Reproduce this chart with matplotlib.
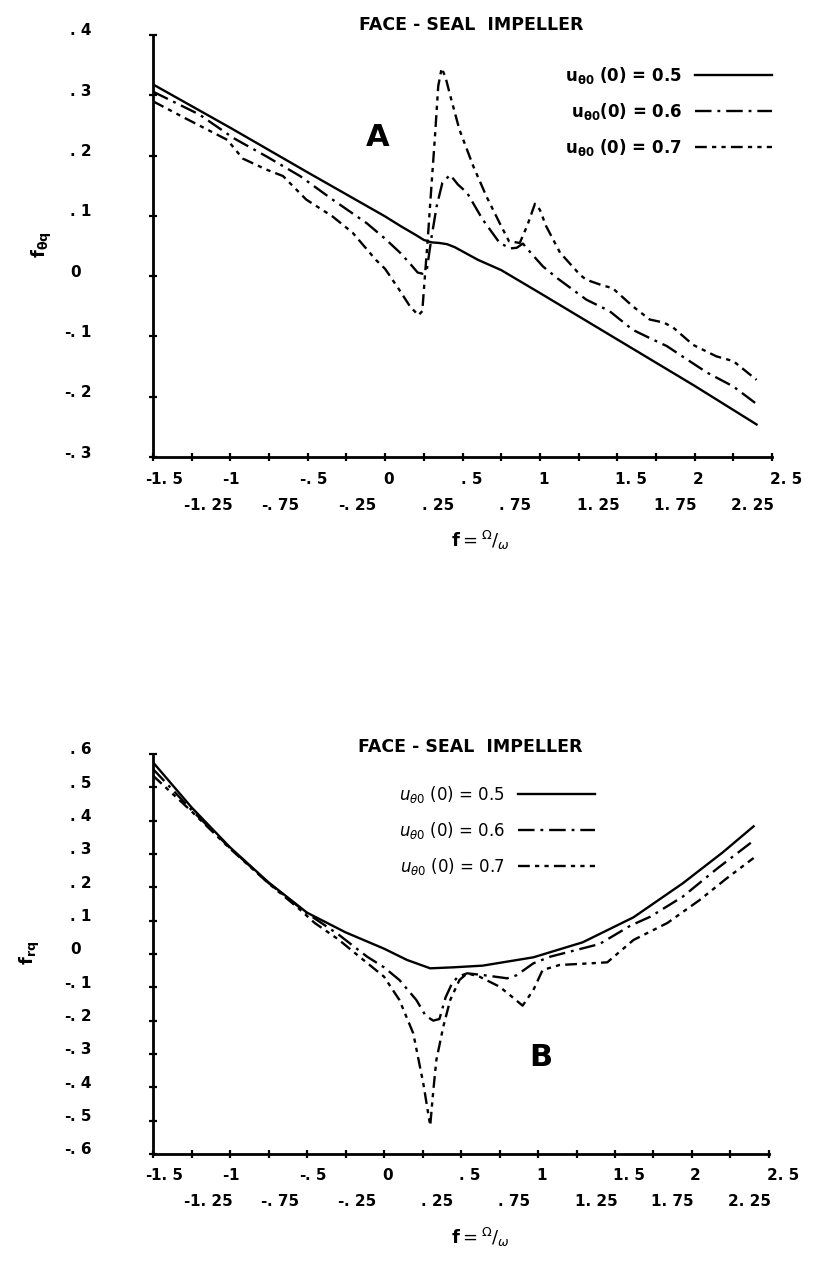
import numpy as np
import matplotlib
matplotlib.use("Agg")
import matplotlib.pyplot as plt
import matplotlib.transforms as mtrans

plt.rcParams['font.family'] = ['DejaVu Sans']
plt.rcParams['mathtext.fontset'] = 'dejavusans'

# ---------------- panel A : f_theta_q ----------------
fA_05 = [-1.5, -1.0, -0.5, 0.0, 0.1, 0.2, 0.25, 0.3, 0.35, 0.4, 0.45, 0.5, 0.6, 0.75, 1.0, 1.5, 2.0, 2.4]
vA_05 = [0.318, 0.246, 0.172, 0.099, 0.083, 0.068, 0.060, 0.056, 0.055, 0.053, 0.048, 0.041, 0.027, 0.010,
         -0.028, -0.105, -0.182, -0.246]

fA_06 = [-1.5, -1.2, -0.98, -0.77, -0.55, -0.34, -0.12, 0.0, 0.1, 0.17, 0.21, 0.24, 0.27, 0.30, 0.333, 0.37,
         0.42, 0.47, 0.53, 0.63, 0.74, 0.81, 0.85, 0.89, 0.95, 1.02, 1.11, 1.30, 1.45, 1.60, 1.72, 1.82, 1.92,
         2.08, 2.25, 2.40]
vA_06 = [0.306, 0.268, 0.229, 0.199, 0.166, 0.127, 0.088, 0.062, 0.038, 0.018, 0.006, 0.004, 0.012, 0.065,
         0.116, 0.155, 0.168, 0.152, 0.138, 0.094, 0.055, 0.046, 0.047, 0.054, 0.036, 0.016, -0.003, -0.039,
         -0.058, -0.089, -0.104, -0.116, -0.133, -0.160, -0.183, -0.212]

fA_07 = [-1.5, -1.3, -1.02, -0.92, -0.77, -0.66, -0.51, -0.34, -0.21, -0.06, 0.0, 0.1, 0.16, 0.215, 0.24,
         0.257, 0.275, 0.29, 0.322, 0.343, 0.365, 0.39, 0.42, 0.48, 0.57, 0.655, 0.74, 0.80, 0.87, 0.92, 0.968,
         1.0, 1.04, 1.13, 1.26, 1.30, 1.40, 1.47, 1.60, 1.71, 1.80, 1.86, 1.99, 2.14, 2.25, 2.40]
vA_07 = [0.290, 0.263, 0.226, 0.195, 0.177, 0.166, 0.127, 0.099, 0.072, 0.027, 0.012, -0.026, -0.050, -0.065,
         -0.058, 0.0, 0.060, 0.116, 0.232, 0.315, 0.345, 0.330, 0.300, 0.243, 0.182, 0.132, 0.088, 0.058,
         0.055, 0.085, 0.120, 0.110, 0.083, 0.039, 0.002, -0.006, -0.015, -0.020, -0.050, -0.072, -0.077,
         -0.085, -0.114, -0.133, -0.141, -0.172]

# ---------------- panel B : f_r_q ----------------
fB_05 = [-1.5, -1.25, -1.0, -0.75, -0.5, -0.25, 0.0, 0.15, 0.3, 0.45, 0.64, 0.97, 1.29, 1.62, 1.94, 2.2, 2.4]
vB_05 = [0.575, 0.440, 0.320, 0.215, 0.124, 0.065, 0.016, -0.018, -0.043, -0.040, -0.035, -0.010, 0.035,
         0.110, 0.212, 0.305, 0.383]

fB_06 = [-1.5, -1.25, -1.0, -0.75, -0.5, -0.3, -0.11, 0.0, 0.10, 0.21, 0.27, 0.32, 0.36, 0.40, 0.44, 0.48,
         0.54, 0.64, 0.80, 0.86, 0.97, 1.08, 1.19, 1.40, 1.60, 1.73, 1.94, 2.16, 2.40]
vB_06 = [0.555, 0.432, 0.318, 0.213, 0.122, 0.060, -0.008, -0.040, -0.078, -0.138, -0.185, -0.200, -0.195,
         -0.130, -0.090, -0.068, -0.058, -0.063, -0.073, -0.064, -0.028, -0.008, 0.005, 0.030, 0.085, 0.112,
         0.172, 0.255, 0.340]

fB_07 = [-1.5, -1.25, -1.0, -0.75, -0.55, -0.45, -0.3, -0.16, 0.0, 0.10, 0.19, 0.255, 0.30, 0.32, 0.34, 0.385,
         0.43, 0.49, 0.54, 0.62, 0.75, 0.83, 0.90, 0.97, 1.03, 1.14, 1.34, 1.45, 1.62, 1.84, 2.05, 2.22, 2.40]
vB_07 = [0.535, 0.428, 0.316, 0.212, 0.135, 0.093, 0.045, -0.008, -0.068, -0.138, -0.238, -0.388, -0.515,
         -0.410, -0.318, -0.218, -0.138, -0.078, -0.058, -0.068, -0.098, -0.128, -0.155, -0.108, -0.048,
         -0.033, -0.028, -0.025, 0.042, 0.093, 0.162, 0.225, 0.288]

# tick values / labels (two rows on the f axis, as on the plotter output)
xt_row1 = [-1.5, -1.0, -0.5, 0.0, 0.5, 1.0, 1.5, 2.0, 2.5]
xl_row1 = ['-1. 5', '-1', '-. 5', '0', '. 5', '1', '1. 5', '2', '2. 5']
xt_row2 = [-1.25, -0.75, -0.25, 0.25, 0.75, 1.25, 1.75, 2.25]
xl_row2 = ['-1. 25', '-. 75', '-. 25', '. 25', '. 75', '1. 25', '1. 75', '2. 25']
ytA = [0.4, 0.3, 0.2, 0.1, 0.0, -0.1, -0.2, -0.3]
ylA = ['. 4', '. 3', '. 2', '. 1', '0', '-. 1', '-. 2', '-. 3']
ytB = [0.6, 0.5, 0.4, 0.3, 0.2, 0.1, 0.0, -0.1, -0.2, -0.3, -0.4, -0.5, -0.6]
ylB = ['. 6', '. 5', '. 4', '. 3', '. 2', '. 1', '0', '-. 1', '-. 2', '-. 3', '-. 4', '-. 5', '-. 6']

leg_labels_A = [r'$\mathbf{u_{\theta 0}}$ (0) = 0.5', r'$\mathbf{u_{\theta 0}}$(0) = 0.6',
                r'$\mathbf{u_{\theta 0}}$ (0) = 0.7']
leg_labels_B = [r'$u_{\theta 0}$ (0) = 0.5', r'$u_{\theta 0}$ (0) = 0.6', r'$u_{\theta 0}$ (0) = 0.7']

ls06 = (0, (7, 2.5, 1.2, 2.5))
ls07 = (0, (5, 2.2, 1.8, 2.2, 1.8, 2.2))
LW = 1.7
TFS = 11

fig = plt.figure(figsize=(8.2, 12.67), dpi=100)
axA = fig.add_axes([0.1866, 0.6393, 0.7549, 0.3331])
axB = fig.add_axes([0.1866, 0.0892, 0.7512, 0.3157])


def put_label(ax, trans, x, y, s):
    # sign hangs to the left of the tick, the rest starts at the tick
    if s.startswith('-'):
        ax.text(x, y, '-', transform=trans, ha='right', va='center', fontsize=TFS,
                fontweight='bold', clip_on=False)
        s = s[1:]
    ax.text(x, y, s, transform=trans, ha='left', va='center', fontsize=TFS,
            fontweight='bold', clip_on=False)


def setup(ax, ylim, yt, yl):
    ax.set_xlim(-1.5, 2.5)
    ax.set_ylim(*ylim)
    for s in ['top', 'right']:
        ax.spines[s].set_visible(False)
    for s in ['left', 'bottom']:
        ax.spines[s].set_linewidth(2.0)
    ax.set_xticks(sorted(xt_row1 + xt_row2))
    ax.set_yticks(yt)
    ax.tick_params(direction='inout', length=6, width=1.6, labelbottom=False, labelleft=False)
    tx1 = mtrans.offset_copy(ax.get_xaxis_transform(), fig=fig, x=-2, y=-22, units='dots')
    tx2 = mtrans.offset_copy(ax.get_xaxis_transform(), fig=fig, x=-2, y=-48, units='dots')
    for v, s in zip(xt_row1, xl_row1):
        put_label(ax, tx1, v, 0, s)
    for v, s in zip(xt_row2, xl_row2):
        put_label(ax, tx2, v, 0, s)
    ty = mtrans.offset_copy(ax.get_yaxis_transform(), fig=fig, x=-83, y=4, units='dots')
    for v, s in zip(yt, yl):
        put_label(ax, ty, 0, v, s)


# panel A
l1, = axA.plot(fA_05, vA_05, color='black', lw=LW, ls='-')
l2, = axA.plot(fA_06, vA_06, color='black', lw=LW, ls=ls06)
l3, = axA.plot(fA_07, vA_07, color='black', lw=LW, ls=ls07)
setup(axA, (-0.3, 0.4), ytA, ylA)
axA.legend([l1, l2, l3], leg_labels_A, loc='upper right', bbox_to_anchor=(1.0, 0.93),
           frameon=False, markerfirst=False, handlelength=4.6, handletextpad=0.8,
           labelspacing=0.9, borderaxespad=0, borderpad=0, prop={'size': 12, 'weight': 'bold'})
axA.text(0.514, 1.024, 'FACE - SEAL  IMPELLER', transform=axA.transAxes, ha='center', va='center',
         fontsize=12.5, fontweight='bold')
axA.text(0.3635, 0.756, 'A', transform=axA.transAxes, ha='center', va='center', fontsize=22,
         fontweight='bold')

# panel B
m1, = axB.plot(fB_05, vB_05, color='black', lw=LW, ls='-')
m2, = axB.plot(fB_06, vB_06, color='black', lw=LW, ls=ls06)
m3, = axB.plot(fB_07, vB_07, color='black', lw=LW, ls=ls07)
setup(axB, (-0.6, 0.6), ytB, ylB)
axB.legend([m1, m2, m3], leg_labels_B, loc='upper right', bbox_to_anchor=(0.7175, 0.925),
           frameon=False, markerfirst=False, handlelength=4.6, handletextpad=0.8,
           labelspacing=0.9, borderaxespad=0, borderpad=0, prop={'size': 12})
axB.text(0.5146, 1.0175, 'FACE - SEAL  IMPELLER', transform=axB.transAxes, ha='center', va='center',
         fontsize=12.5, fontweight='bold')
axB.text(0.63, 0.24, 'B', transform=axB.transAxes, ha='center', va='center', fontsize=22,
         fontweight='bold')

# axis titles
fig.text(42 / 820, 1 - 245 / 1267, r'$\mathbf{f_{\theta q}}$', rotation=90, ha='center', va='center',
         fontsize=13)
fig.text(30 / 820, 1 - 953 / 1267, r'$\mathbf{f_{rq}}$', rotation=90, ha='center', va='center',
         fontsize=13)
fig.text(480 / 820, 1 - 540 / 1267, r'$\mathbf{f} = {}^{\Omega}/_{\omega}$', ha='center', va='center',
         fontsize=13)
fig.text(480 / 820, 1 - 1237 / 1267, r'$\mathbf{f} = {}^{\Omega}/_{\omega}$', ha='center', va='center',
         fontsize=13)

fig.savefig('out.png', dpi=100)
